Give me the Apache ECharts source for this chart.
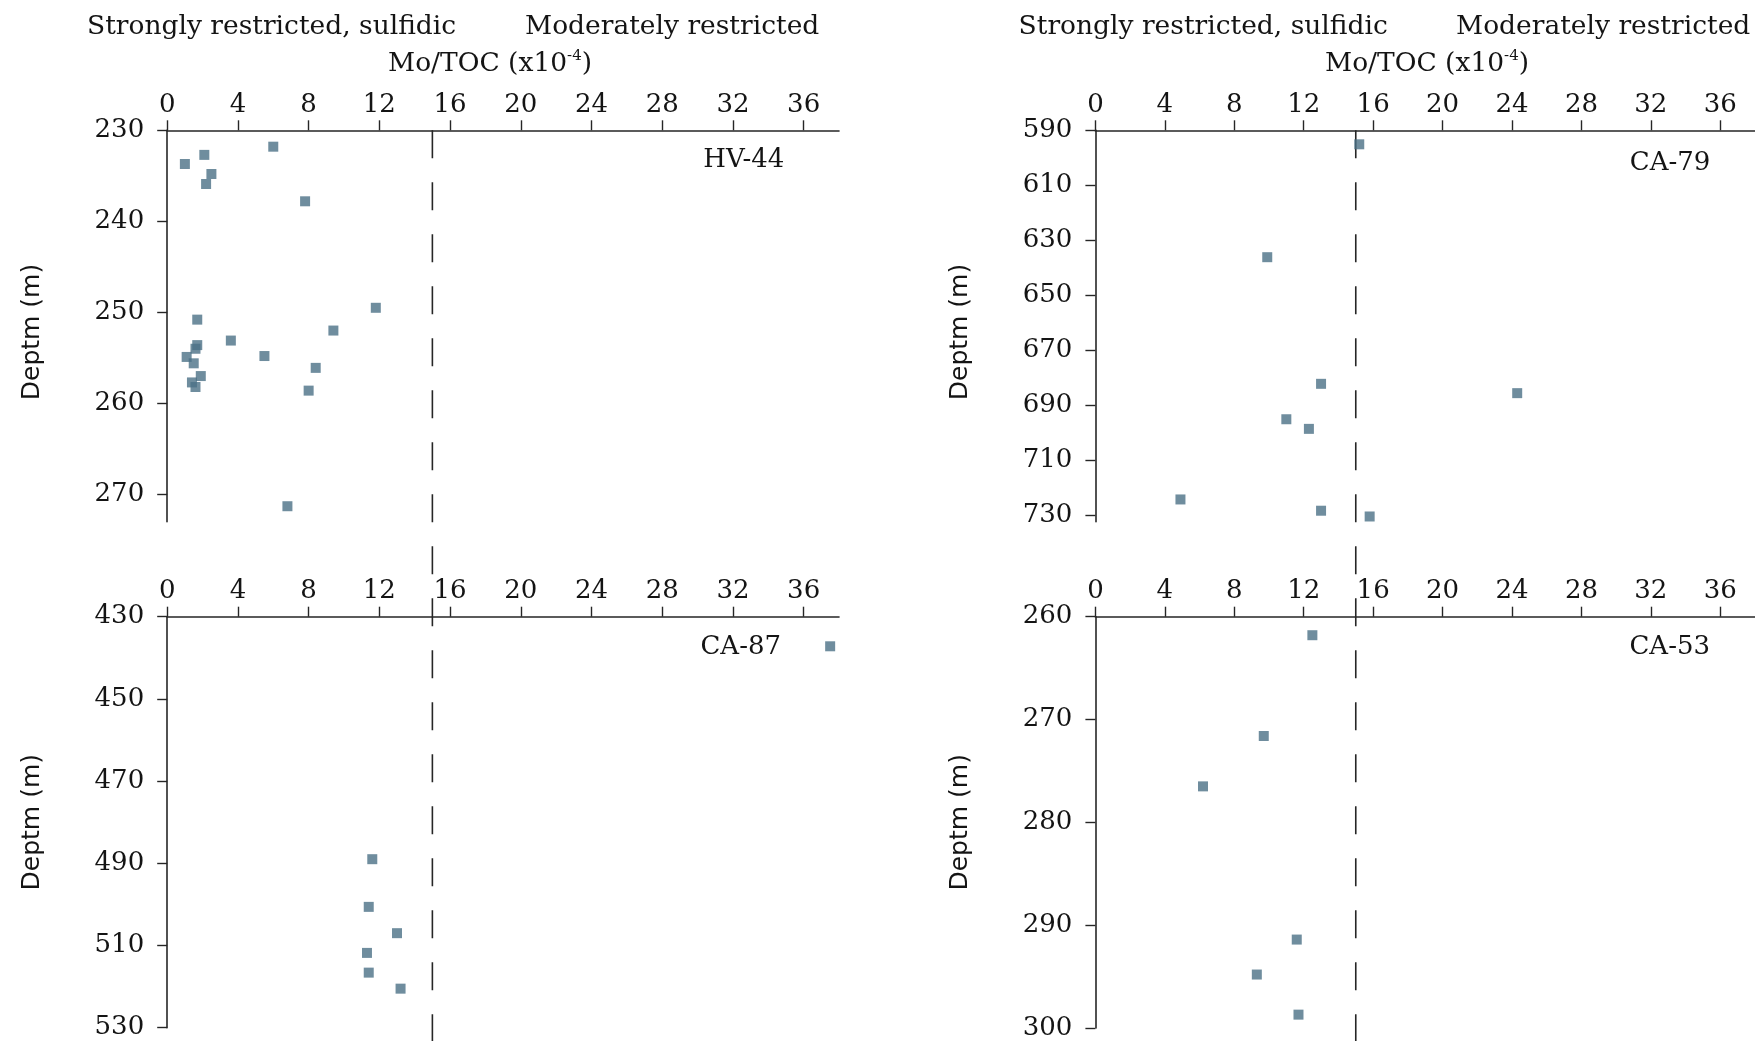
<!DOCTYPE html>
<html>
<head>
<meta charset="utf-8">
<script src="https://cdn.jsdelivr.net/npm/echarts@6/dist/echarts.min.js"></script>
<style>
  html, body { margin: 0; padding: 0; background: #fff; }
  #chart { width: 1755px; height: 1041px; }
</style>
</head>
<body>
<div id="chart"></div>
<script>
// Mo/TOC (x10^-4) against depth (m) in four wells

// HV-44
const hv44MoToc  = [6.0, 2.1, 1.0, 2.5, 2.2, 7.8, 11.8, 1.7, 9.4, 3.6, 1.7, 1.6, 5.5, 1.1, 1.5, 8.4, 1.9, 1.4, 1.6, 8.0, 6.8];
const hv44Depth  = [231.8, 232.7, 233.7, 234.8, 235.9, 237.8, 249.5, 250.8, 252.0, 253.1, 253.6, 254.0, 254.8, 254.9, 255.6, 256.1, 257.0, 257.7, 258.2, 258.6, 271.3];

// CA-79
const ca79MoToc  = [15.2, 9.9, 13.0, 24.3, 11.0, 12.3, 4.9, 13.0, 15.8];
const ca79Depth  = [595.1, 636.2, 682.3, 685.7, 695.2, 698.7, 724.4, 728.5, 730.6];

// CA-87
const ca87MoToc  = [37.5, 11.6, 11.4, 13.0, 11.3, 11.4, 13.2];
const ca87Depth  = [437.2, 489.0, 500.6, 507.0, 511.8, 516.6, 520.5];

// CA-53
const ca53MoToc  = [12.5, 9.7, 6.2, 11.6, 9.3, 11.7];
const ca53Depth  = [261.8, 271.6, 276.5, 291.4, 294.8, 298.7];

// Boundary between strongly restricted (sulfidic) and moderately restricted basins
const restrictionThreshold = 15;

// Axis ticks
const moTocTicks   = [0, 4, 8, 12, 16, 20, 24, 28, 32, 36];
const hv44Ticks    = [230, 240, 250, 260, 270];
const ca79Ticks    = [590, 610, 630, 650, 670, 690, 710, 730];
const ca87Ticks    = [430, 450, 470, 490, 510, 530];
const ca53Ticks    = [260, 270, 280, 290, 300];

const wells = [
  { name: 'HV-44', x: hv44MoToc, y: hv44Depth, ticks: hv44Ticks, min: 230, max: 273 },
  { name: 'CA-79', x: ca79MoToc, y: ca79Depth, ticks: ca79Ticks, min: 590, max: 732.5 },
  { name: 'CA-87', x: ca87MoToc, y: ca87Depth, ticks: ca87Ticks, min: 430, max: 530 },
  { name: 'CA-53', x: ca53MoToc, y: ca53Depth, ticks: ca53Ticks, min: 260, max: 300 }
];

const SERIF = '"DejaVu Serif", serif';
const SANS = '"DejaVu Sans", sans-serif';
const INK = '#141414';
const AXIS = '#262626';
const MARK = '#4b7086';
const X_MAX = 38;

// panel frames: [left, top, width, height]
const frames = [
  [167.2, 130.3, 671.8, 391.4],
  [1095.4, 130.3, 672.6, 391.4],
  [167.2, 616.7, 671.8, 411.0],
  [1095.4, 616.7, 672.6, 413.3]
];
// full-height frames carrying the threshold line of each column
const columns = [
  [167.2, 130.3, 671.8, 1041 - 130.3],
  [1095.4, 130.3, 672.6, 1041 - 130.3]
];

const grid = [];
const xAxis = [];
const yAxis = [];
const series = [];

wells.forEach((w, i) => {
  const f = frames[i];
  const topRow = i < 2;
  grid.push({ left: f[0], top: f[1], width: f[2], height: f[3], containLabel: false });
  xAxis.push({
    gridIndex: i, type: 'value', position: 'top', min: 0, max: X_MAX,
    axisLine: { show: true, onZero: false, lineStyle: { color: AXIS, width: 1.6 } },
    axisTick: { show: true, inside: false, length: 10, customValues: moTocTicks, lineStyle: { color: AXIS, width: 1.4 } },
    axisLabel: { show: true, margin: 12, customValues: moTocTicks, color: INK, fontFamily: SERIF, fontSize: 26 },
    splitLine: { show: false }
  });
  yAxis.push({
    gridIndex: i, type: 'value', inverse: true, min: w.min, max: w.max,
    name: 'Deptm (m)', nameLocation: 'middle', nameGap: 122,
    nameTextStyle: {
      color: INK, fontFamily: SANS, fontSize: 25,
      padding: topRow ? [0, 12, 0, 0] : [0, 0, 0, 0]
    },
    axisLine: { show: true, onZero: false, lineStyle: { color: AXIS, width: 1.6 } },
    axisTick: { show: true, inside: false, length: 10, customValues: w.ticks, lineStyle: { color: AXIS, width: 1.4 } },
    axisLabel: { show: true, margin: 23, customValues: w.ticks, color: INK, fontFamily: SERIF, fontSize: 26 },
    splitLine: { show: false }
  });
  series.push({
    name: w.name, type: 'scatter', xAxisIndex: i, yAxisIndex: i,
    symbol: 'rect', symbolSize: 10, z: 5,
    itemStyle: { color: MARK },
    data: w.x.map((v, k) => [v, w.y[k]])
  });
});

columns.forEach((f, c) => {
  const gi = 4 + c;
  grid.push({ left: f[0], top: f[1], width: f[2], height: f[3], containLabel: false });
  xAxis.push({ gridIndex: gi, type: 'value', min: 0, max: X_MAX, show: false });
  yAxis.push({ gridIndex: gi, type: 'value', min: 0, max: 1, inverse: true, show: false });
  series.push({
    type: 'line', xAxisIndex: gi, yAxisIndex: gi, silent: true, z: 2,
    symbol: 'none', clip: false,
    lineStyle: { color: '#262626', width: 1.6, type: [28, 24] },
    data: [[restrictionThreshold, 0], [restrictionThreshold, 1]]
  });
});

function label(text, x, y, align, size) {
  return {
    type: 'text', x: x, y: y, silent: true,
    style: { text: text, fill: INK, font: (size || 26) + 'px ' + SERIF, textAlign: align, textVerticalAlign: 'middle' }
  };
}

function axisTitle(x, y) {
  return {
    type: 'text', x: x, y: y, silent: true,
    style: {
      text: '{n|Mo/TOC (x10}{s|-4}{n|)}',
      textAlign: 'left', textVerticalAlign: 'middle',
      rich: {
        n: { fill: INK, fontFamily: SERIF, fontSize: 26.5, lineHeight: 30 },
        s: { fill: INK, fontFamily: SERIF, fontSize: 15, lineHeight: 30, verticalAlign: 'top' }
      }
    }
  };
}

const graphic = [
  label('Strongly restricted, sulfidic', 87, 27, 'left', 26.5),
  label('Moderately restricted', 525, 27, 'left', 26.5),
  label('Strongly restricted, sulfidic', 1018.6, 27, 'left', 26.5),
  label('Moderately restricted', 1456, 27, 'left', 26.5),
  axisTitle(388, 64),
  axisTitle(1325, 64),
  label('HV-44', 784.3, 160, 'right'),
  label('CA-79', 1710.4, 163, 'right'),
  label('CA-87', 781, 647, 'right'),
  label('CA-53', 1710, 647, 'right')
];

const chart = echarts.init(document.getElementById('chart'), null, { renderer: 'canvas' });
chart.setOption({
  backgroundColor: '#ffffff',
  animation: false,
  grid: grid,
  xAxis: xAxis,
  yAxis: yAxis,
  series: series,
  graphic: graphic
});
</script>
</body>
</html>
